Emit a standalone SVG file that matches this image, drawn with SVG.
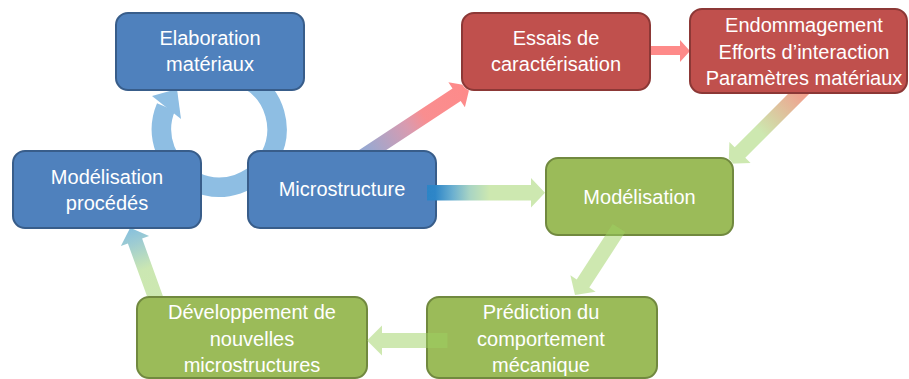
<svg xmlns="http://www.w3.org/2000/svg" width="909" height="379" viewBox="0 0 909 379">
<style>
.box{stroke-width:2}
.blue{fill:#4F81BD;stroke:#385D8A}
.red{fill:#C0504D;stroke:#8C3836}
.green{fill:#9BBB59;stroke:#71893F}
.lbl{font-family:"Liberation Sans",Arial,sans-serif;font-size:20px;fill:#FFFFFF;text-anchor:middle}
.pale{fill:#9DD262;fill-opacity:0.5}
</style>
<defs>
<mask id="behind" maskUnits="userSpaceOnUse" x="0" y="0" width="909" height="379">
<rect x="0" y="0" width="909" height="379" fill="#fff"/>
<g fill="#000">
<rect x="115" y="12" width="190" height="79" rx="12"/>
<rect x="12" y="150" width="190" height="79" rx="12"/>
<rect x="247" y="150" width="190" height="79" rx="12"/>
<rect x="461" y="12" width="190" height="79" rx="12"/>
<rect x="689" y="8" width="219" height="86" rx="12"/>
<rect x="545" y="157" width="189" height="79" rx="12"/>
<rect x="136" y="296" width="232" height="83" rx="12"/>
<rect x="426" y="296" width="232" height="83" rx="12"/>
</g>
</mask>
<linearGradient id="g2" gradientUnits="userSpaceOnUse" x1="356" y1="161" x2="470" y2="86">
<stop offset="0" stop-color="#8FA6D6"/>
<stop offset="0.12" stop-color="#9AA8D0"/>
<stop offset="0.45" stop-color="#D89BB0"/>
<stop offset="0.6" stop-color="#F98E90"/>
<stop offset="1" stop-color="#FE8A89"/>
</linearGradient>
<linearGradient id="g4" gradientUnits="userSpaceOnUse" x1="807.5" y1="85" x2="728.7" y2="163.8">
<stop offset="0" stop-color="#F29D8C"/>
<stop offset="0.12" stop-color="#EEA590"/>
<stop offset="0.44" stop-color="#D6D2A4"/>
<stop offset="0.6" stop-color="#CDE8B0"/>
<stop offset="1" stop-color="#CDE8B0"/>
</linearGradient>
<linearGradient id="g5" gradientUnits="userSpaceOnUse" x1="427" y1="0" x2="545" y2="0">
<stop offset="0" stop-color="#2C84C6"/>
<stop offset="0.07" stop-color="#2E86C8"/>
<stop offset="0.22" stop-color="#6CB0D0"/>
<stop offset="0.36" stop-color="#A8D4C4"/>
<stop offset="0.53" stop-color="#CDE8B0"/>
<stop offset="1" stop-color="#CDE8B0"/>
</linearGradient>
<linearGradient id="g8" gradientUnits="userSpaceOnUse" x1="157" y1="303" x2="130" y2="228">
<stop offset="0" stop-color="#CDE8B0"/>
<stop offset="0.45" stop-color="#CBE7B2"/>
<stop offset="0.8" stop-color="#9ECCD2"/>
<stop offset="1" stop-color="#86C0DE"/>
</linearGradient>
</defs>

<g id="nodes">
<g id="elaboration">
<rect class="box blue" x="116" y="13" width="188" height="77" rx="12"/>
<text class="lbl" x="210" y="45">Elaboration</text>
<text class="lbl" x="210" y="71">matériaux</text>
</g>
<g id="modelisation-procedes">
<rect class="box blue" x="13" y="151" width="188" height="77" rx="12"/>
<text class="lbl" x="107" y="183.5">Modélisation</text>
<text class="lbl" x="107" y="209.5">procédés</text>
</g>
<g id="microstructure">
<rect class="box blue" x="248" y="151" width="188" height="77" rx="12"/>
<text class="lbl" x="342" y="196">Microstructure</text>
</g>
<g id="essais">
<rect class="box red" x="462" y="13" width="188" height="77" rx="12"/>
<text class="lbl" x="556" y="45">Essais de</text>
<text class="lbl" x="556" y="71">caractérisation</text>
</g>
<g id="endommagement">
<rect class="box red" x="690" y="9" width="217" height="84" rx="12"/>
<text class="lbl" x="804" y="32">Endommagement</text>
<text class="lbl" x="804" y="58.5">Efforts d’interaction</text>
<text class="lbl" x="804" y="85">Paramètres matériaux</text>
</g>
<g id="modelisation">
<rect class="box green" x="546" y="158" width="187" height="77" rx="12"/>
<text class="lbl" x="639.5" y="203.5">Modélisation</text>
</g>
<g id="prediction">
<rect class="box green" x="427" y="297" width="230" height="81" rx="12"/>
<text class="lbl" x="541" y="319">Prédiction du</text>
<text class="lbl" x="541" y="345.5">comportement</text>
<text class="lbl" x="541" y="371.5">mécanique</text>
</g>
<g id="developpement">
<rect class="box green" x="137" y="297" width="230" height="81" rx="12"/>
<text class="lbl" x="252" y="319">Développement de</text>
<text class="lbl" x="252" y="345.5">nouvelles</text>
<text class="lbl" x="252" y="371.5">microstructures</text>
</g>
</g>

<g id="connectors">
<g mask="url(#behind)">
<path d="M166,107 A57.75,57.75 0 1 0 248.4,79.5" fill="none" stroke="#8EBEE3" stroke-width="19.5"/>
<polygon points="152,96 177,89 181,119" fill="#8EBEE3"/>
<polygon points="360.5,167.1 460.7,101.1 464.9,107.3 470,86 448.4,82.3 452.5,88.5 352.3,154.5" fill="url(#g2)"/>
<path d="M646,46 H680 V40 L690,51 L680,62 V55 H646 Z" fill="#FE8A89"/>
<polygon points="812.8,90.3 745.3,157.8 750.6,163.1 728.7,163.8 729.4,141.9 734.7,147.2 802.2,79.7" fill="url(#g4)"/>
<polygon points="164.5,300.5 142.1,238.5 149.1,235.9 130.2,227.8 120.9,246.1 127.9,243.6 150.4,305.6" fill="url(#g8)"/>
</g>
<path d="M427,185 H531 V178 L545,192.75 L531,207.5 V200.5 H427 Z" fill="url(#g5)"/>
<polygon class="pale" points="625.3,232.1 589.3,287.6 595.6,291.7 575,295 570.4,275.3 576.7,279.4 612.7,223.9"/>
<path class="pale" d="M447.5,333 H382 V325.5 L367,340.5 L382,355.5 V348 H447.5 Z"/>
</g>
</svg>
